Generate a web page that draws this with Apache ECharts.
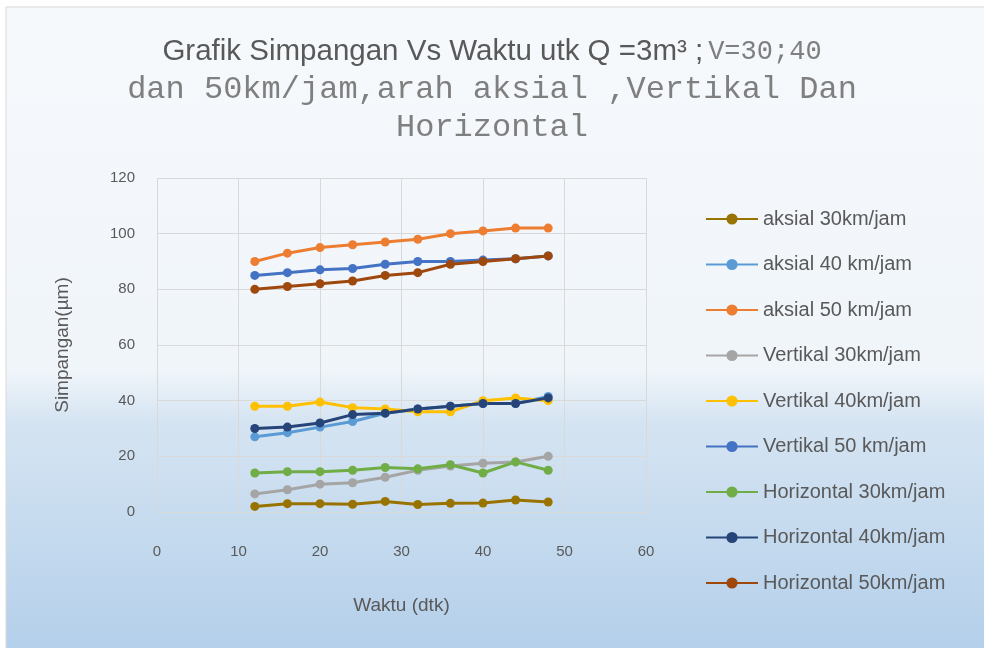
<!DOCTYPE html>
<html>
<head>
<meta charset="utf-8">
<script src="https://cdn.jsdelivr.net/npm/echarts@6/dist/echarts.min.js"></script>
<style>
  html, body { margin: 0; padding: 0; background: #fff; }
  #main { width: 984px; height: 648px; }
</style>
</head>
<body>
<div id="main"></div>
<script>
// waktu (dtk)
var waktu = [12, 16, 20, 24, 28, 32, 36, 40, 44, 48];

var seriesNames = [
  'aksial 30km/jam', 'aksial 40 km/jam', 'aksial 50 km/jam',
  'Vertikal 30km/jam', 'Vertikal 40km/jam', 'Vertikal 50 km/jam',
  'Horizontal 30km/jam', 'Horizontal 40km/jam', 'Horizontal 50km/jam'
];
var seriesColors = ['#997300', '#5B9BD5', '#ED7D31', '#A5A5A5', '#FFC000', '#4472C4', '#70AD47', '#264478', '#9E480E'];

// simpangan (um)
var aksial30 = [2, 3, 3, 2.8, 3.8, 2.7, 3.1, 3.2, 4.3, 3.6];
var aksial40 = [27, 28.5, 30.5, 32.5, 35.5, 37, 38, 39, 39, 41.5];
var aksial50 = [90, 93, 95, 96, 97, 98, 100, 101, 102, 102];
var vertikal30 = [6.5, 8, 10, 10.5, 12.5, 15, 16.5, 17.5, 18, 20];
var vertikal40 = [38, 38, 39.5, 37.5, 37, 36, 36, 40, 41, 40];
var vertikal50 = [85, 86, 87, 87.5, 89, 90, 90, 90.5, 91, 92];
var horizontal30 = [14, 14.5, 14.5, 15, 16, 15.5, 17, 14, 18, 15];
var horizontal40 = [30, 30.5, 32, 35, 35.5, 37, 38, 39, 39, 41];
var horizontal50 = [80, 81, 82, 83, 85, 86, 89, 90, 91, 92];

var allValues = [aksial30, aksial40, aksial50, vertikal30, vertikal40, vertikal50, horizontal30, horizontal40, horizontal50];

var xTicks = { min: 0, max: 60, interval: 10 };
var yTicks = { min: 0, max: 120, interval: 20 };

var chartDom = document.getElementById('main');
var myChart = echarts.init(chartDom);

var series = allValues.map(function (vals, i) {
  return {
    name: seriesNames[i],
    type: 'line',
    data: waktu.map(function (x, j) { return [x, vals[j]]; }),
    symbol: 'circle',
    symbolSize: 9,
    color: seriesColors[i],
    lineStyle: { width: 3 },
    emphasis: { disabled: true }
  };
});

var sans = '"Liberation Sans Narrow", "Liberation Sans", sans-serif';
var mono = '"Liberation Mono", "DejaVu Sans Mono", monospace';

var option = {
  animation: false,
  graphic: [{
    type: 'rect',
    z: -10,
    silent: true,
    shape: { x: 6, y: 7, width: 984, height: 648 },
    style: {
      stroke: '#d9d9d9',
      lineWidth: 1,
      fill: new echarts.graphic.LinearGradient(0, 0, 0, 1, [
        { offset: 0, color: '#f6f9fc' },
        { offset: 0.56, color: '#f0f5fa' },
        { offset: 0.64, color: '#d5e4f2' },
        { offset: 1, color: '#b3cfea' }
      ])
    }
  }],
  title: {
    left: 'center',
    top: 28,
    text: '{a|Grafik Simpangan Vs Waktu utk Q =3m³ ;} {b|V=30;40}\n{c|dan 50km/jam,arah aksial ,Vertikal Dan}\n{c|Horizontal}',
    textStyle: {
      fontWeight: 'normal',
      rich: {
        a: { fontFamily: sans, fontSize: 29.5, fontWeight: 'normal', color: '#595959', lineHeight: 38 },
        b: { fontFamily: mono, fontSize: 27, fontWeight: 'normal', color: '#7f7f7f', lineHeight: 38 },
        c: { fontFamily: mono, fontSize: 32, fontWeight: 'normal', color: '#7f7f7f', lineHeight: 38 }
      }
    }
  },
  legend: {
    orient: 'vertical',
    left: 700,
    top: 204,
    itemWidth: 52,
    itemHeight: 14,
    itemGap: 25.5,
    textStyle: { fontFamily: sans, fontSize: 20, color: '#595959' },
    data: seriesNames
  },
  grid: { left: 157, right: 338, top: 178, bottom: 136 },
  xAxis: {
    type: 'value',
    min: xTicks.min,
    max: xTicks.max,
    interval: xTicks.interval,
    name: 'Waktu (dtk)',
    nameLocation: 'middle',
    nameGap: 84,
    nameTextStyle: { fontFamily: sans, fontSize: 19, color: '#595959' },
    axisLine: { show: true, lineStyle: { color: '#d9d9d9' } },
    axisTick: { show: false },
    axisLabel: { margin: 32, fontFamily: sans, fontSize: 15, color: '#595959' },
    splitLine: { show: true, lineStyle: { color: '#d9d9d9', width: 1 } }
  },
  yAxis: {
    type: 'value',
    min: yTicks.min,
    max: yTicks.max,
    interval: yTicks.interval,
    name: 'Simpangan(µm)',
    nameLocation: 'middle',
    nameGap: 85,
    nameTextStyle: { fontFamily: sans, fontSize: 19, color: '#595959' },
    axisLine: { show: false },
    axisTick: { show: false },
    axisLabel: { margin: 22, fontFamily: sans, fontSize: 15, color: '#595959' },
    splitLine: { show: true, lineStyle: { color: '#d9d9d9', width: 1 } }
  },
  series: series
};

myChart.setOption(option);
window.addEventListener('resize', function () {
  myChart.resize();
});
</script>
</body>
</html>
